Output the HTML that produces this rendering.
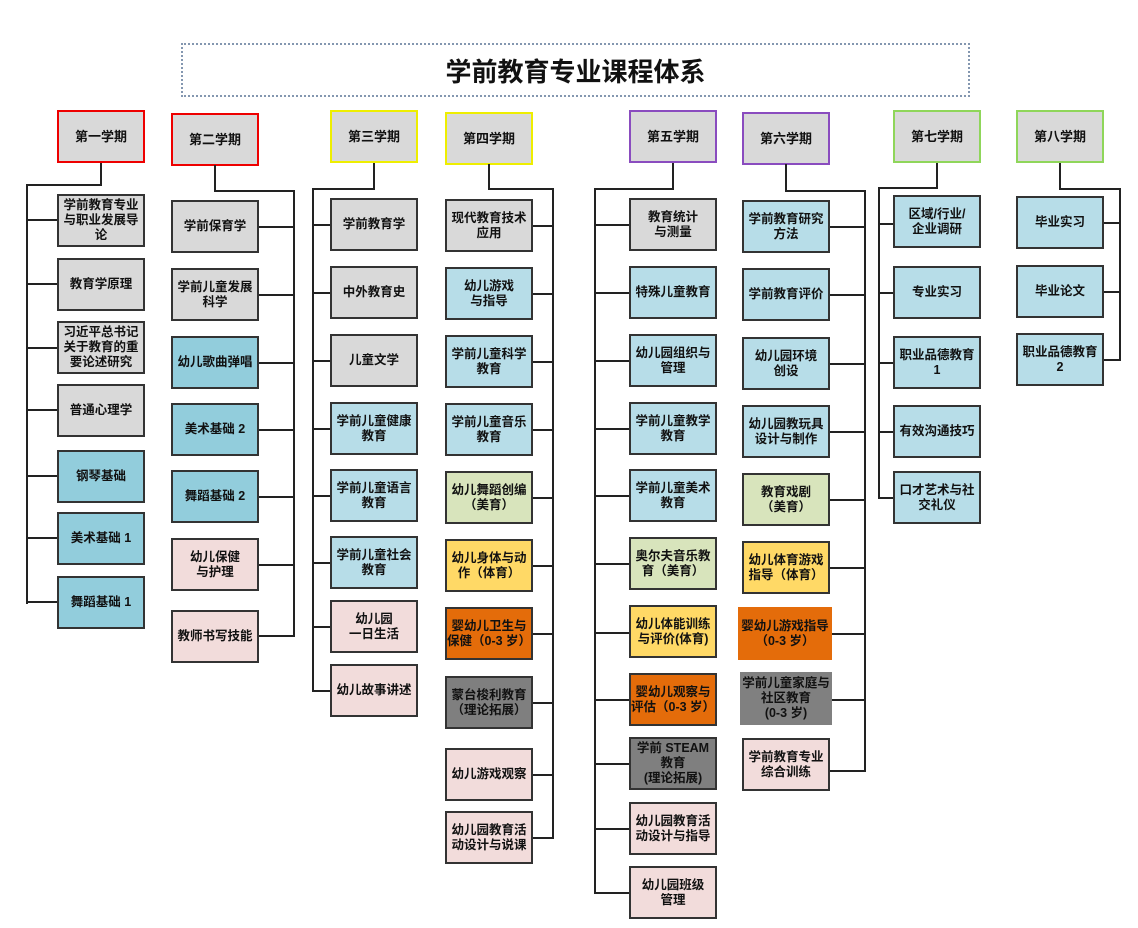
<!DOCTYPE html>
<html><head><meta charset="utf-8"><style>
body{margin:0;width:1138px;height:928px;background:#fff;position:relative;overflow:hidden;font-family:"Liberation Sans","Noto Sans CJK SC",sans-serif}
.b{position:absolute;width:84px;height:49px;border:2px solid #333;display:flex;align-items:center;justify-content:center;text-align:center;font-size:12.5px;font-weight:bold;line-height:15px;color:#111;box-sizing:content-box}
.h{background:#d9d9d9;font-size:13px}
.g{background:#d9d9d9}.u{background:#b7dde8}.t{background:#92cddc}.p{background:#f2dcdb}.n{background:#d8e4bc}.y{background:#ffd966}.o{background:#e46c0a}.d{background:#7f7f7f}
.nb{border-color:transparent}
.l{position:absolute;background:#222}
.title{position:absolute;left:181px;top:43px;width:785px;height:50px;border:2px dotted #8497b0;display:flex;align-items:center;justify-content:center;font-size:26px;font-weight:bold;color:#111}
</style></head><body>
<div class="title">学前教育专业课程体系</div>

<!-- headers -->
<div class="b h" style="left:57px;top:110px;border-color:#e00">第一学期</div>
<div class="b h" style="left:171px;top:113px;border-color:#e00">第二学期</div>
<div class="b h" style="left:330px;top:110px;border-color:#ee0">第三学期</div>
<div class="b h" style="left:445px;top:112px;border-color:#ee0">第四学期</div>
<div class="b h" style="left:629px;top:110px;border-color:#8a4cbf">第五学期</div>
<div class="b h" style="left:742px;top:112px;border-color:#8a4cbf">第六学期</div>
<div class="b h" style="left:893px;top:110px;border-color:#8fd65a">第七学期</div>
<div class="b h" style="left:1016px;top:110px;border-color:#8fd65a">第八学期</div>

<!-- col1 lines -->
<div class="l" style="left:100px;top:163px;width:2px;height:22px"></div>
<div class="l" style="left:26px;top:184px;width:76px;height:2px"></div>
<div class="l" style="left:26px;top:184px;width:2px;height:420px"></div>
<div class="l" style="left:26px;top:219px;width:31px;height:2px"></div>
<div class="l" style="left:26px;top:283px;width:31px;height:2px"></div>
<div class="l" style="left:26px;top:347px;width:31px;height:2px"></div>
<div class="l" style="left:26px;top:409px;width:31px;height:2px"></div>
<div class="l" style="left:26px;top:475px;width:31px;height:2px"></div>
<div class="l" style="left:26px;top:537px;width:31px;height:2px"></div>
<div class="l" style="left:26px;top:601px;width:31px;height:2px"></div>
<div class="b g" style="left:57px;top:194px">学前教育专业与职业发展导论</div>
<div class="b g" style="left:57px;top:258px">教育学原理</div>
<div class="b g" style="left:57px;top:321px">习近平总书记关于教育的重要论述研究</div>
<div class="b g" style="left:57px;top:384px">普通心理学</div>
<div class="b t" style="left:57px;top:450px">钢琴基础</div>
<div class="b t" style="left:57px;top:512px">美术基础 1</div>
<div class="b t" style="left:57px;top:576px">舞蹈基础 1</div>

<!-- col2 -->
<div class="l" style="left:214px;top:165px;width:2px;height:26px"></div>
<div class="l" style="left:214px;top:190px;width:81px;height:2px"></div>
<div class="l" style="left:293px;top:190px;width:2px;height:447px"></div>
<div class="l" style="left:259px;top:226px;width:36px;height:2px"></div>
<div class="l" style="left:259px;top:294px;width:36px;height:2px"></div>
<div class="l" style="left:259px;top:362px;width:36px;height:2px"></div>
<div class="l" style="left:259px;top:429px;width:36px;height:2px"></div>
<div class="l" style="left:259px;top:496px;width:36px;height:2px"></div>
<div class="l" style="left:259px;top:564px;width:36px;height:2px"></div>
<div class="l" style="left:259px;top:635px;width:36px;height:2px"></div>
<div class="b g" style="left:171px;top:200px">学前保育学</div>
<div class="b g" style="left:171px;top:268px">学前儿童发展科学</div>
<div class="b t" style="left:171px;top:336px">幼儿歌曲弹唱</div>
<div class="b t" style="left:171px;top:403px">美术基础 2</div>
<div class="b t" style="left:171px;top:470px">舞蹈基础 2</div>
<div class="b p" style="left:171px;top:538px">幼儿保健<br>与护理</div>
<div class="b p" style="left:171px;top:610px">教师书写技能</div>

<!-- col3 -->
<div class="l" style="left:373px;top:163px;width:2px;height:26px"></div>
<div class="l" style="left:312px;top:188px;width:63px;height:2px"></div>
<div class="l" style="left:312px;top:188px;width:2px;height:503px"></div>
<div class="l" style="left:312px;top:224px;width:18px;height:2px"></div>
<div class="l" style="left:312px;top:292px;width:18px;height:2px"></div>
<div class="l" style="left:312px;top:360px;width:18px;height:2px"></div>
<div class="l" style="left:312px;top:428px;width:18px;height:2px"></div>
<div class="l" style="left:312px;top:495px;width:18px;height:2px"></div>
<div class="l" style="left:312px;top:562px;width:18px;height:2px"></div>
<div class="l" style="left:312px;top:626px;width:18px;height:2px"></div>
<div class="l" style="left:312px;top:690px;width:18px;height:2px"></div>
<div class="b g" style="left:330px;top:198px">学前教育学</div>
<div class="b g" style="left:330px;top:266px">中外教育史</div>
<div class="b g" style="left:330px;top:334px">儿童文学</div>
<div class="b u" style="left:330px;top:402px">学前儿童健康教育</div>
<div class="b u" style="left:330px;top:469px">学前儿童语言教育</div>
<div class="b u" style="left:330px;top:536px">学前儿童社会教育</div>
<div class="b p" style="left:330px;top:600px">幼儿园<br>一日生活</div>
<div class="b p" style="left:330px;top:664px">幼儿故事讲述</div>

<!-- col4 -->
<div class="l" style="left:488px;top:164px;width:2px;height:25px"></div>
<div class="l" style="left:488px;top:188px;width:66px;height:2px"></div>
<div class="l" style="left:552px;top:188px;width:2px;height:651px"></div>
<div class="l" style="left:532px;top:225px;width:22px;height:2px"></div>
<div class="l" style="left:532px;top:293px;width:22px;height:2px"></div>
<div class="l" style="left:532px;top:361px;width:22px;height:2px"></div>
<div class="l" style="left:532px;top:429px;width:22px;height:2px"></div>
<div class="l" style="left:532px;top:497px;width:22px;height:2px"></div>
<div class="l" style="left:532px;top:565px;width:22px;height:2px"></div>
<div class="l" style="left:532px;top:633px;width:22px;height:2px"></div>
<div class="l" style="left:532px;top:702px;width:22px;height:2px"></div>
<div class="l" style="left:532px;top:774px;width:22px;height:2px"></div>
<div class="l" style="left:532px;top:837px;width:22px;height:2px"></div>
<div class="b g" style="left:445px;top:199px">现代教育技术<br>应用</div>
<div class="b u" style="left:445px;top:267px">幼儿游戏<br>与指导</div>
<div class="b u" style="left:445px;top:335px">学前儿童科学教育</div>
<div class="b u" style="left:445px;top:403px">学前儿童音乐教育</div>
<div class="b n" style="left:445px;top:471px">幼儿舞蹈创编（美育）</div>
<div class="b y" style="left:445px;top:539px">幼儿身体与动作（体育）</div>
<div class="b o" style="left:445px;top:607px">婴幼儿卫生与保健（0-3 岁）</div>
<div class="b d" style="left:445px;top:676px">蒙台梭利教育（理论拓展）</div>
<div class="b p" style="left:445px;top:748px">幼儿游戏观察</div>
<div class="b p" style="left:445px;top:811px">幼儿园教育活动设计与说课</div>

<!-- col5 -->
<div class="l" style="left:672px;top:163px;width:2px;height:26px"></div>
<div class="l" style="left:594px;top:188px;width:80px;height:2px"></div>
<div class="l" style="left:594px;top:188px;width:2px;height:706px"></div>
<div class="l" style="left:594px;top:224px;width:35px;height:2px"></div>
<div class="l" style="left:594px;top:292px;width:35px;height:2px"></div>
<div class="l" style="left:594px;top:360px;width:35px;height:2px"></div>
<div class="l" style="left:594px;top:428px;width:35px;height:2px"></div>
<div class="l" style="left:594px;top:495px;width:35px;height:2px"></div>
<div class="l" style="left:594px;top:563px;width:35px;height:2px"></div>
<div class="l" style="left:594px;top:632px;width:35px;height:2px"></div>
<div class="l" style="left:594px;top:699px;width:35px;height:2px"></div>
<div class="l" style="left:594px;top:763px;width:35px;height:2px"></div>
<div class="l" style="left:594px;top:828px;width:35px;height:2px"></div>
<div class="l" style="left:594px;top:892px;width:35px;height:2px"></div>
<div class="b g" style="left:629px;top:198px">教育统计<br>与测量</div>
<div class="b u" style="left:629px;top:266px">特殊儿童教育</div>
<div class="b u" style="left:629px;top:334px">幼儿园组织与管理</div>
<div class="b u" style="left:629px;top:402px">学前儿童教学教育</div>
<div class="b u" style="left:629px;top:469px">学前儿童美术教育</div>
<div class="b n" style="left:629px;top:537px">奥尔夫音乐教育（美育）</div>
<div class="b y" style="left:629px;top:605px">幼儿体能训练与评价(体育)</div>
<div class="b o" style="left:629px;top:673px">婴幼儿观察与评估（0-3 岁）</div>
<div class="b d" style="left:629px;top:737px">学前 STEAM 教育<br>(理论拓展)</div>
<div class="b p" style="left:629px;top:802px">幼儿园教育活动设计与指导</div>
<div class="b p" style="left:629px;top:866px">幼儿园班级<br>管理</div>

<!-- col6 -->
<div class="l" style="left:785px;top:164px;width:2px;height:27px"></div>
<div class="l" style="left:785px;top:190px;width:81px;height:2px"></div>
<div class="l" style="left:864px;top:190px;width:2px;height:582px"></div>
<div class="l" style="left:829px;top:226px;width:37px;height:2px"></div>
<div class="l" style="left:829px;top:294px;width:37px;height:2px"></div>
<div class="l" style="left:829px;top:363px;width:37px;height:2px"></div>
<div class="l" style="left:829px;top:431px;width:37px;height:2px"></div>
<div class="l" style="left:829px;top:499px;width:37px;height:2px"></div>
<div class="l" style="left:829px;top:567px;width:37px;height:2px"></div>
<div class="l" style="left:829px;top:633px;width:37px;height:2px"></div>
<div class="l" style="left:829px;top:699px;width:37px;height:2px"></div>
<div class="l" style="left:829px;top:770px;width:37px;height:2px"></div>
<div class="b u" style="left:742px;top:200px">学前教育研究方法</div>
<div class="b u" style="left:742px;top:268px">学前教育评价</div>
<div class="b u" style="left:742px;top:337px">幼儿园环境<br>创设</div>
<div class="b u" style="left:742px;top:405px">幼儿园教玩具设计与制作</div>
<div class="b n" style="left:742px;top:473px">教育戏剧<br>（美育）</div>
<div class="b y" style="left:742px;top:541px">幼儿体育游戏指导（体育）</div>
<div class="b o nb" style="left:738px;top:607px;width:90px">婴幼儿游戏指导（0-3 岁）</div>
<div class="b nb" style="left:740px;top:672px;width:88px;background:#808080">学前儿童家庭与社区教育<br>(0-3 岁)</div>
<div class="b p" style="left:742px;top:738px">学前教育专业综合训练</div>

<!-- col7 -->
<div class="l" style="left:936px;top:163px;width:2px;height:25px"></div>
<div class="l" style="left:878px;top:187px;width:60px;height:2px"></div>
<div class="l" style="left:878px;top:187px;width:2px;height:312px"></div>
<div class="l" style="left:878px;top:223px;width:15px;height:2px"></div>
<div class="l" style="left:878px;top:292px;width:15px;height:2px"></div>
<div class="l" style="left:878px;top:362px;width:15px;height:2px"></div>
<div class="l" style="left:878px;top:431px;width:15px;height:2px"></div>
<div class="l" style="left:878px;top:497px;width:15px;height:2px"></div>
<div class="b u" style="left:893px;top:195px">区域/行业/<br>企业调研</div>
<div class="b u" style="left:893px;top:266px">专业实习</div>
<div class="b u" style="left:893px;top:336px">职业品德教育<br>1</div>
<div class="b u" style="left:893px;top:405px">有效沟通技巧</div>
<div class="b u" style="left:893px;top:471px">口才艺术与社交礼仪</div>

<!-- col8 -->
<div class="l" style="left:1059px;top:163px;width:2px;height:26px"></div>
<div class="l" style="left:1059px;top:188px;width:62px;height:2px"></div>
<div class="l" style="left:1119px;top:188px;width:2px;height:173px"></div>
<div class="l" style="left:1103px;top:222px;width:18px;height:2px"></div>
<div class="l" style="left:1103px;top:291px;width:18px;height:2px"></div>
<div class="l" style="left:1103px;top:359px;width:18px;height:2px"></div>
<div class="b u" style="left:1016px;top:196px">毕业实习</div>
<div class="b u" style="left:1016px;top:265px">毕业论文</div>
<div class="b u" style="left:1016px;top:333px">职业品德教育<br>2</div>
</body></html>
